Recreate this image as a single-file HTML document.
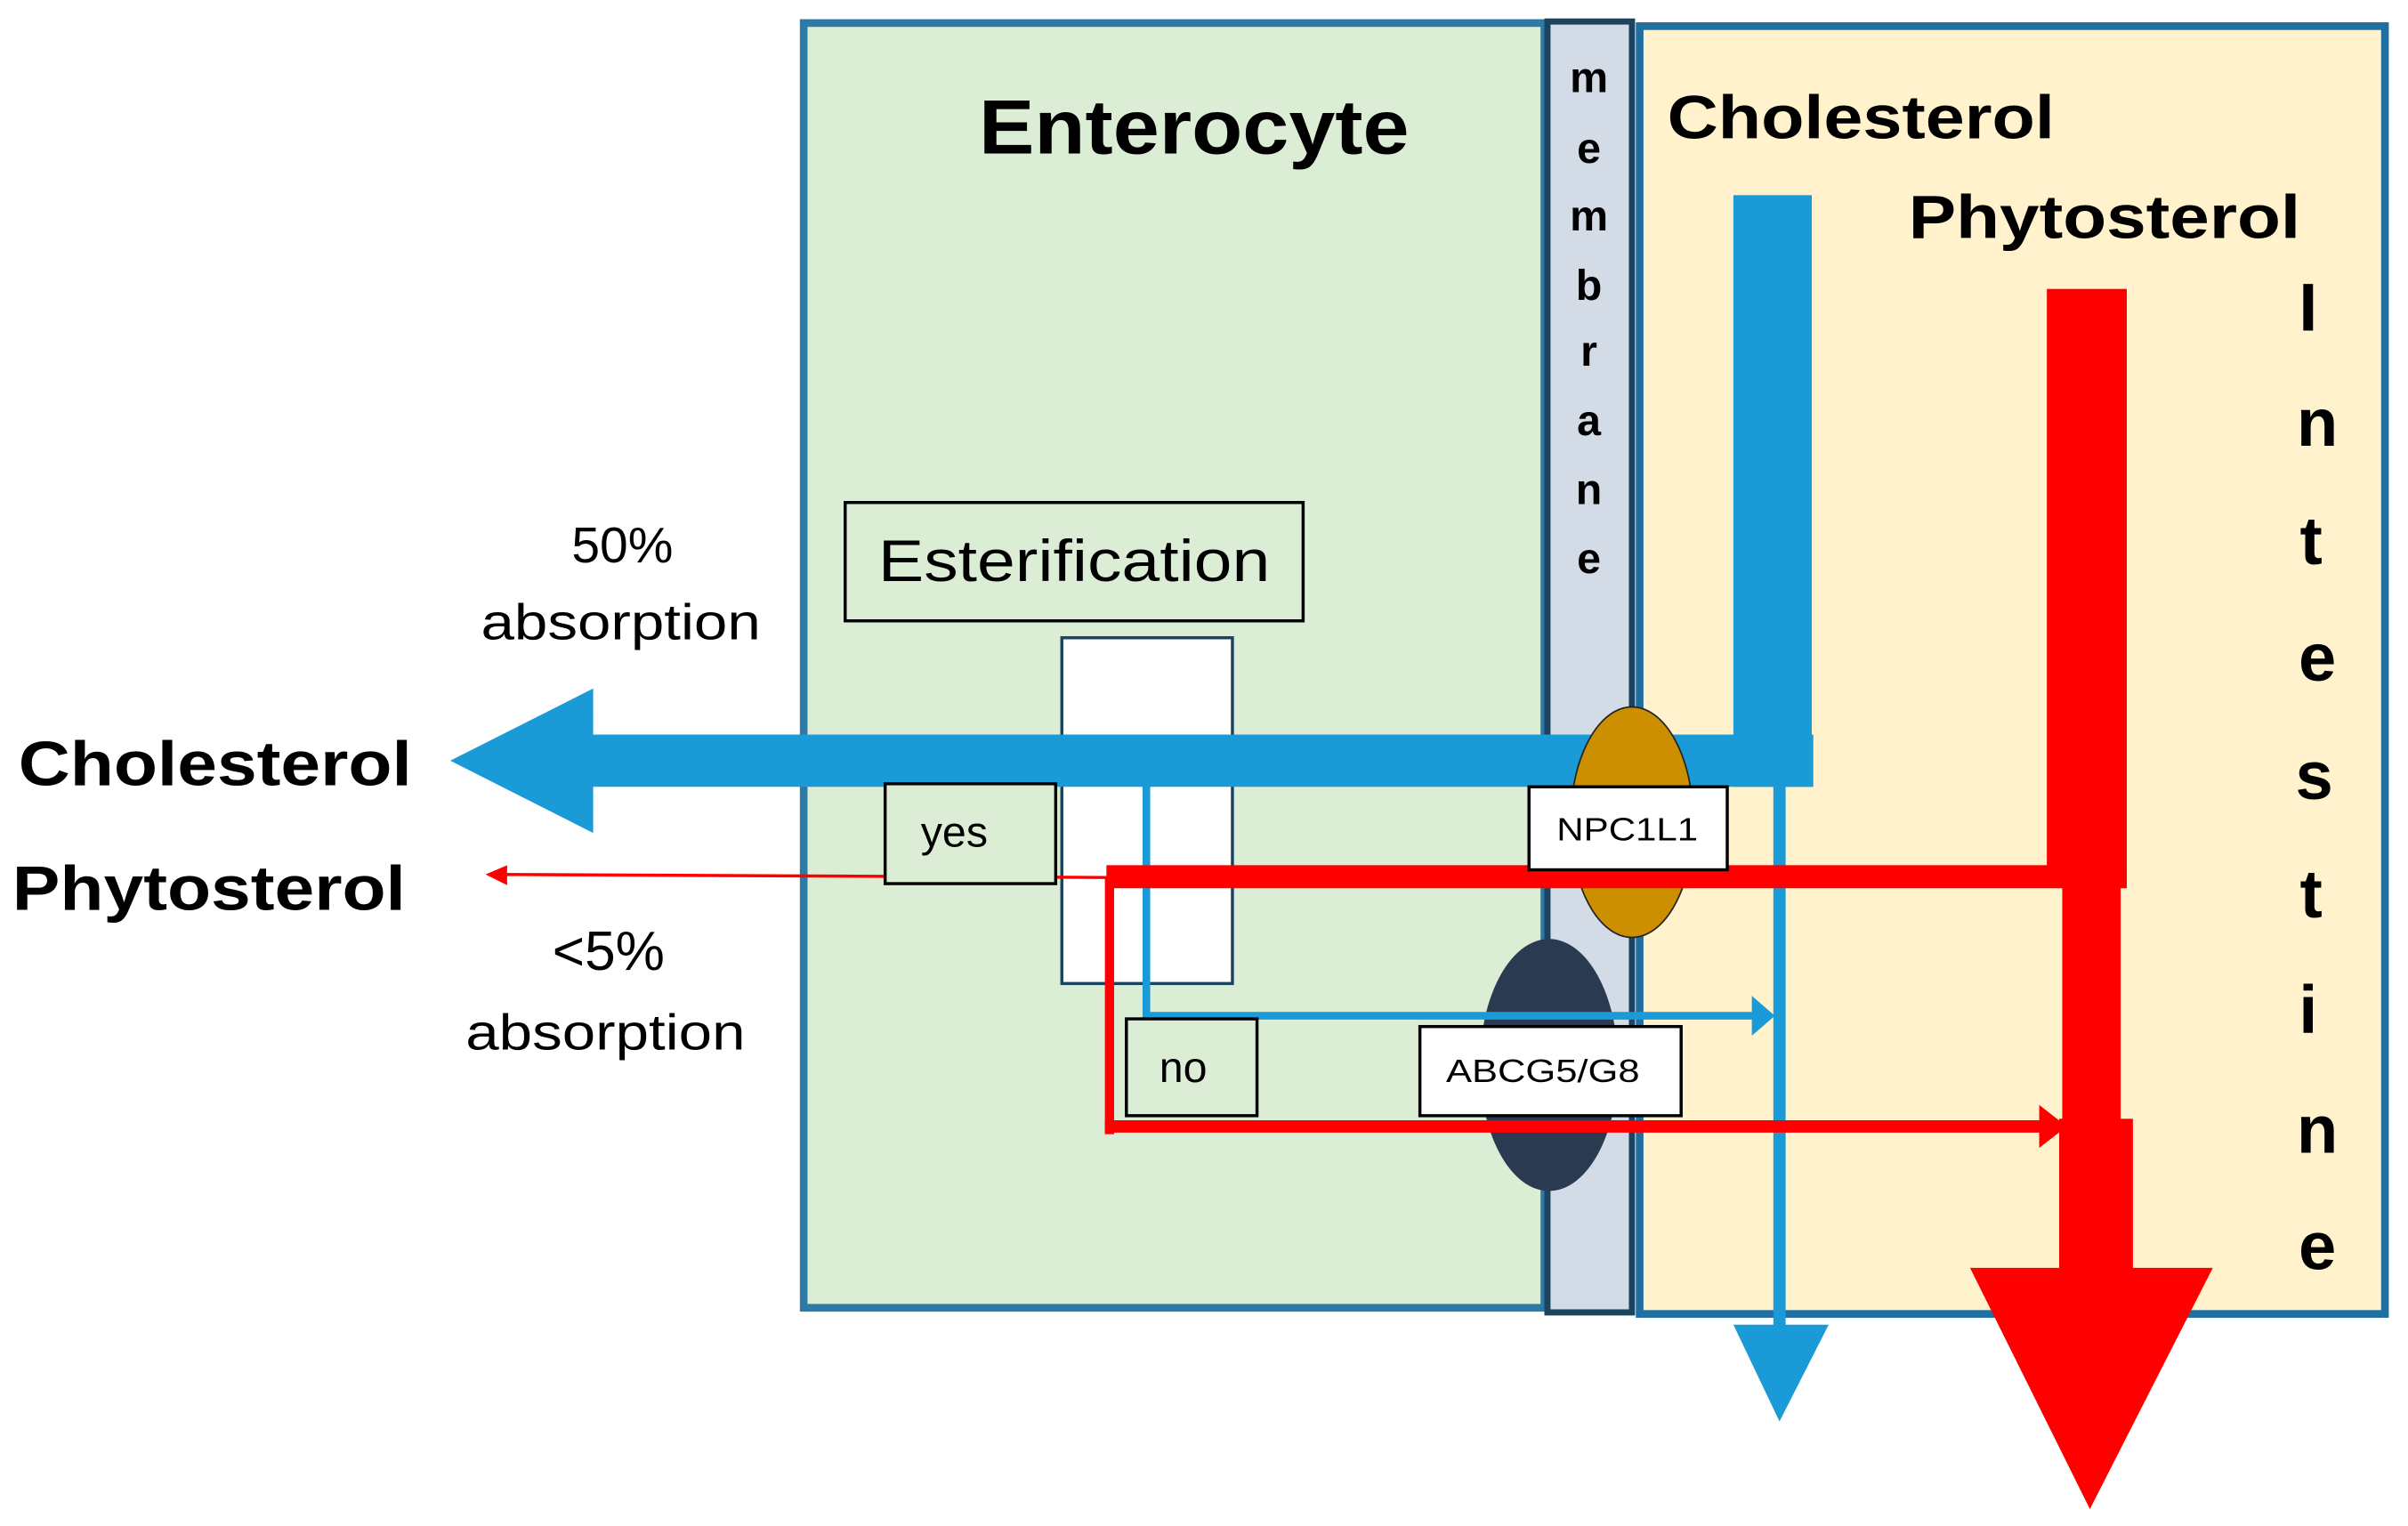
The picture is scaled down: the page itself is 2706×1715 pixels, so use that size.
<!DOCTYPE html>
<html><head><meta charset="utf-8"><style>
html,body{margin:0;padding:0;background:#fff;}
svg{display:block;}
text{font-family:"Liberation Sans",sans-serif;}
</style></head><body>
<svg width="2706" height="1715" viewBox="0 0 1567 993" preserveAspectRatio="none" xmlns="http://www.w3.org/2000/svg">
<rect x="0" y="0" width="1567" height="993" fill="#fff"/>
<rect x="523" y="15" width="482" height="836" fill="#dcedd6" stroke="#2e7aa6" stroke-width="5"/>
<rect x="1067" y="17" width="485" height="838" fill="#fff2cc" stroke="#1f6fa0" stroke-width="5"/>
<rect x="1007" y="14" width="55" height="840" fill="#d3dce6" stroke="#1a4460" stroke-width="4"/>
<text x="777" y="100" font-size="50" font-weight="bold" text-anchor="middle" textLength="280" lengthAdjust="spacingAndGlyphs">Enterocyte</text>
<g font-size="28" font-weight="bold" text-anchor="middle">
<text x="1034" y="60">m</text><text x="1034" y="106">e</text><text x="1034" y="150">m</text><text x="1034" y="195">b</text><text x="1034" y="238">r</text><text x="1034" y="283">a</text><text x="1034" y="328">n</text><text x="1034" y="373">e</text>
</g>
<text x="1085" y="90" font-size="40" font-weight="bold" textLength="252" lengthAdjust="spacingAndGlyphs">Cholesterol</text>
<text x="1242" y="155" font-size="40" font-weight="bold" textLength="255" lengthAdjust="spacingAndGlyphs">Phytosterol</text>
<g font-size="44" font-weight="bold" text-anchor="middle">
<text x="1502" y="215">I</text><text x="1508" y="290">n</text><text x="1504" y="367">t</text><text x="1508" y="443">e</text><text x="1506" y="520">s</text><text x="1504" y="597">t</text><text x="1502" y="672">i</text><text x="1508" y="750">n</text><text x="1508" y="826">e</text>
</g>
<rect x="550" y="327" width="298" height="77" fill="none" stroke="#000" stroke-width="2"/>
<text x="699" y="378" font-size="38" text-anchor="middle" textLength="255" lengthAdjust="spacingAndGlyphs">Esterification</text>
<rect x="691" y="415" width="111" height="225" fill="#fff" stroke="#1a4460" stroke-width="2"/>
<ellipse cx="1008" cy="693" rx="45" ry="82" fill="#2a3a50"/>
<rect x="1128" y="127" width="51" height="385" fill="#1a9ad6"/>
<rect x="385" y="478" width="795" height="34" fill="#1a9ad6"/>
<polygon points="293,495 386,448 386,542" fill="#1a9ad6"/>
<polyline points="746,482 746,661 1142,661" fill="none" stroke="#1a9ad6" stroke-width="5"/>
<polygon points="1155,661 1140,648 1140,674" fill="#1a9ad6"/>
<line x1="1158" y1="510" x2="1158" y2="865" stroke="#1a9ad6" stroke-width="8"/>
<polygon points="1128,862 1190,862 1158,925" fill="#1a9ad6"/>
<ellipse cx="1062" cy="535" rx="40" ry="75" fill="#cc8f00" stroke="#222" stroke-width="1"/>
<rect x="1332" y="188" width="52" height="384" fill="#ff0000"/>
<rect x="720" y="563" width="664" height="15" fill="#ff0000"/>
<line x1="720" y1="571" x2="325" y2="569" stroke="#ff0000" stroke-width="2"/>
<polygon points="316,569 330,563 330,576" fill="#ff0000"/>
<line x1="722" y1="570" x2="722" y2="738" stroke="#ff0000" stroke-width="6"/>
<line x1="719" y1="733" x2="1330" y2="733" stroke="#ff0000" stroke-width="8"/>
<polygon points="1345,733 1327,719 1327,747" fill="#ff0000"/>
<rect x="1342" y="570" width="38" height="160" fill="#ff0000"/>
<rect x="1340" y="728" width="48" height="100" fill="#ff0000"/>
<polygon points="1282,825 1440,825 1360,982" fill="#ff0000"/>
<rect x="576" y="510" width="111" height="65" fill="#dcedd6" stroke="#000" stroke-width="2"/>
<text x="621" y="551" font-size="28" text-anchor="middle">yes</text>
<rect x="733" y="663" width="85" height="63" fill="#dcedd6" stroke="#000" stroke-width="2"/>
<text x="770" y="704" font-size="28" text-anchor="middle">no</text>
<rect x="995" y="512" width="129" height="54" fill="#fff" stroke="#000" stroke-width="2"/>
<text x="1059" y="547" font-size="21" text-anchor="middle" textLength="92" lengthAdjust="spacingAndGlyphs">NPC1L1</text>
<rect x="924" y="668" width="170" height="58" fill="#fff" stroke="#000" stroke-width="2"/>
<text x="1004" y="704" font-size="21" text-anchor="middle" textLength="126" lengthAdjust="spacingAndGlyphs">ABCG5/G8</text>
<text x="405" y="366" font-size="33" text-anchor="middle">50%</text>
<text x="404" y="416" font-size="33" text-anchor="middle" textLength="182" lengthAdjust="spacingAndGlyphs">absorption</text>
<text x="12" y="511" font-size="41" font-weight="bold" textLength="256" lengthAdjust="spacingAndGlyphs">Cholesterol</text>
<text x="8" y="592" font-size="41" font-weight="bold" textLength="256" lengthAdjust="spacingAndGlyphs">Phytosterol</text>
<text x="396" y="631" font-size="36" text-anchor="middle">&lt;5%</text>
<text x="394" y="683" font-size="33" text-anchor="middle" textLength="182" lengthAdjust="spacingAndGlyphs">absorption</text>
</svg>
</body></html>
